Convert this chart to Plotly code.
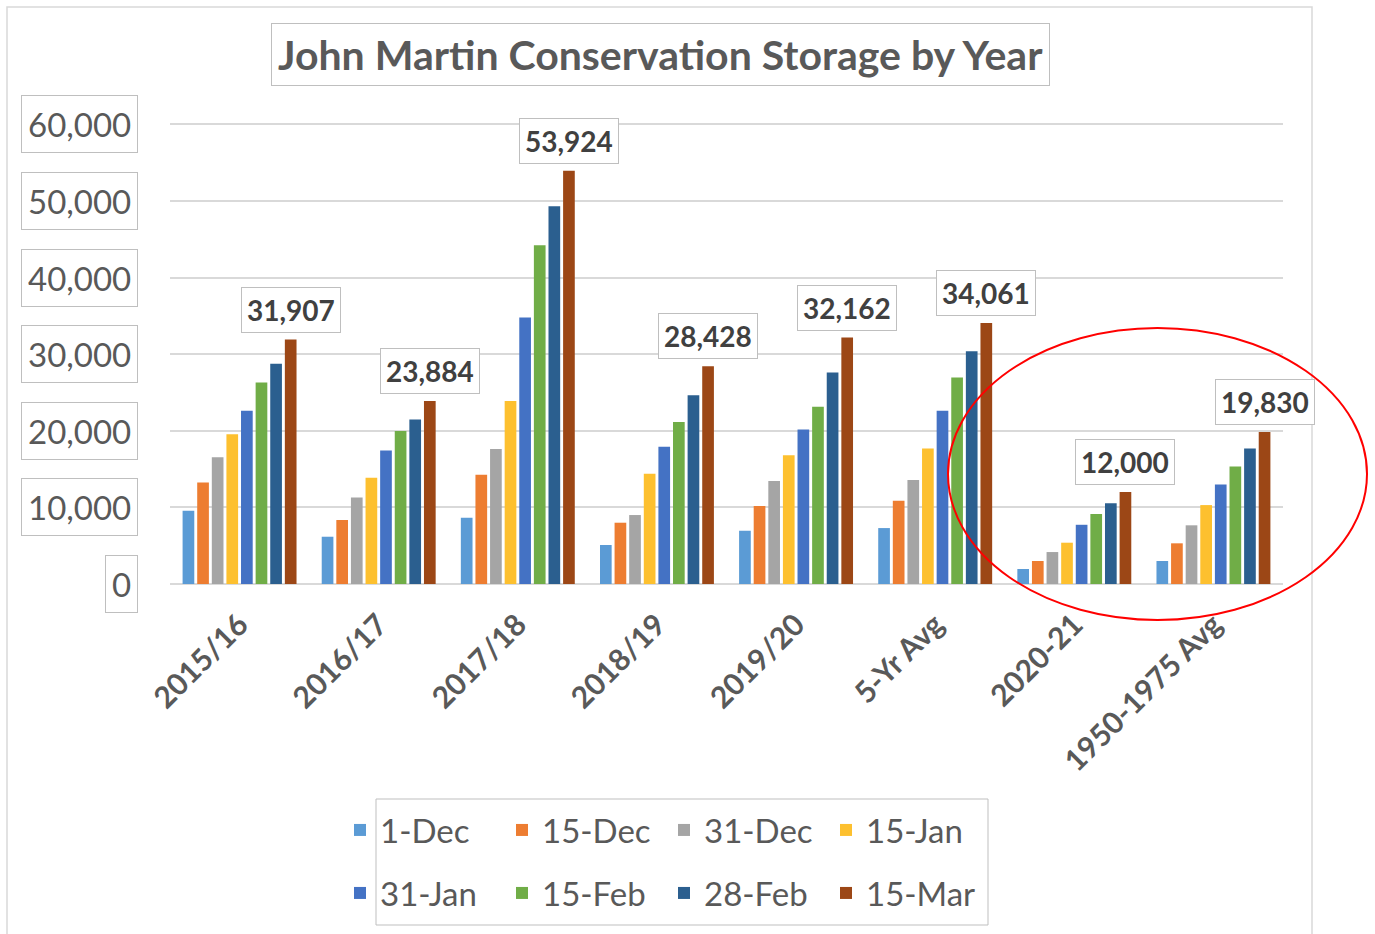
import plotly.graph_objects as go

categories = ["2015/16", "2016/17", "2017/18", "2018/19", "2019/20",
              "5-Yr Avg", "2020-21", "1950-1975 Avg"]
series_names = ["1-Dec", "15-Dec", "31-Dec", "15-Jan",
                "31-Jan", "15-Feb", "28-Feb", "15-Mar"]
series_colors = ["#5B9BD5", "#ED7D31", "#A5A5A5", "#FDC02F",
                 "#4472C4", "#70AD47", "#2B5F8F", "#9C4716"]

dec_1 = [9560, 6170, 8650, 5090, 6950, 7300, 1960, 3000]
dec_15 = [13260, 8350, 14260, 8000, 10170, 10870, 3000, 5310]
dec_31 = [16530, 11300, 17610, 9000, 13430, 13560, 4170, 7660]
jan_15 = [19560, 13870, 23870, 14390, 16820, 17700, 5390, 10300]
jan_31 = [22610, 17440, 34790, 17910, 20180, 22610, 7730, 13000]
feb_15 = [26300, 19960, 44220, 21130, 23130, 26960, 9130, 15350]
feb_28 = [28740, 21480, 49300, 24650, 27610, 30390, 10530, 17700]
mar_15 = [31907, 23884, 53924, 28428, 32162, 34061, 12000, 19830]
series_values = [dec_1, dec_15, dec_31, jan_15, jan_31, feb_15, feb_28, mar_15]

y_ticks = [0, 10000, 20000, 30000, 40000, 50000, 60000]
y_tick_labels = ["0", "10,000", "20,000", "30,000", "40,000", "50,000", "60,000"]

title_text = "John Martin Conservation Storage by Year"

FONT = "Lato, 'Open Sans', sans-serif"
TXT = "#595959"
W, H = 1375, 934
ML, MR, MT, MB = 170, 92, 122, 350
PW = W - ML - MR
PH = H - MT - MB
BARGAP = 0.16
BARGROUPGAP = 0.2


def px_x(px):
    return (px - ML) / PW


def px_y(py):
    return (H - MB - py) / PH


fig = go.Figure()
for i, (name, vals, col) in enumerate(zip(series_names, series_values, series_colors)):
    fig.add_trace(go.Bar(
        x=categories, y=vals, name=name, marker_color=col,
        marker_line_width=0,
        legend="legend" if i < 4 else "legend2",
    ))

# data labels for the last series
slot = PW / len(categories) * (1 - BARGAP) / len(series_names)
last_offset = slot * (len(series_names) - 1) / 2
for c, v in zip(categories, mar_15):
    fig.add_annotation(
        x=c, y=v, xref="x", yref="y", text=f"{v:,}", showarrow=False,
        xanchor="center", yanchor="bottom", xshift=last_offset, yshift=7,
        font=dict(family=FONT, size=28, color="#404040", weight="bold"),
        bordercolor="#BFBFBF", borderwidth=1, borderpad=5, bgcolor="white",
    )

# y tick labels in boxes
for t, lab in zip(y_ticks, y_tick_labels):
    fig.add_annotation(
        x=px_x(138), y=t, xref="paper", yref="y", text=lab, showarrow=False,
        xanchor="right", yanchor="middle", height=44,
        font=dict(family=FONT, size=33, color=TXT),
        bordercolor="#BFBFBF", borderwidth=1, borderpad=6, bgcolor="white",
    )

# title in box
fig.add_annotation(
    x=px_x(660), y=px_y(54), xref="paper", yref="paper", text=title_text,
    showarrow=False, xanchor="center", yanchor="middle",
    font=dict(family=FONT, size=41, color=TXT, weight="bold"),
    bordercolor="#BFBFBF", borderwidth=1, borderpad=6, bgcolor="white",
)

shapes = [
    # outer chart border
    dict(type="rect", xref="paper", yref="paper",
         x0=px_x(7), x1=px_x(1312), y0=px_y(940), y1=px_y(7),
         line=dict(color="#D9D9D9", width=1.5), layer="below"),
    # legend box
    dict(type="rect", xref="paper", yref="paper",
         x0=px_x(376), x1=px_x(988), y0=px_y(925), y1=px_y(799),
         line=dict(color="#BFBFBF", width=1), layer="above"),
    # red ellipse
    dict(type="circle", xref="paper", yref="paper",
         x0=px_x(948), x1=px_x(1367), y0=px_y(620), y1=px_y(328),
         line=dict(color="#FF0000", width=2), layer="above"),
]

legend_common = dict(
    orientation="h", xanchor="left", yanchor="middle",
    font=dict(family=FONT, size=33, color=TXT),
    bgcolor="rgba(0,0,0,0)", borderwidth=0,
    entrywidth=117, entrywidthmode="pixels", traceorder="normal",
)

fig.update_layout(
    width=W, height=H, autosize=False,
    margin=dict(l=ML, r=MR, t=MT, b=MB, pad=0),
    paper_bgcolor="white", plot_bgcolor="white",
    barmode="group", bargap=BARGAP, bargroupgap=BARGROUPGAP,
    showlegend=True,
    legend=dict(x=px_x(340), y=px_y(830), **legend_common),
    legend2=dict(x=px_x(340), y=px_y(893), **legend_common),
    xaxis=dict(
        type="category", tickangle=-45, showgrid=False, showline=False,
        ticks="", ticklabelstandoff=16,
        tickfont=dict(family=FONT, size=30, color=TXT, weight="bold"),
        range=[-0.5, len(categories) - 0.5],
    ),
    yaxis=dict(
        range=[0, 60300], tickvals=y_ticks, showticklabels=False,
        showgrid=True, gridcolor="#D9D9D9", gridwidth=1.5,
        zeroline=True, zerolinecolor="#D9D9D9", zerolinewidth=2,
        showline=False, ticks="",
    ),
    shapes=shapes,
)

fig.write_html("out.html", config={"displayModeBar": False},
               post_script="document.body.style.margin='0';")
